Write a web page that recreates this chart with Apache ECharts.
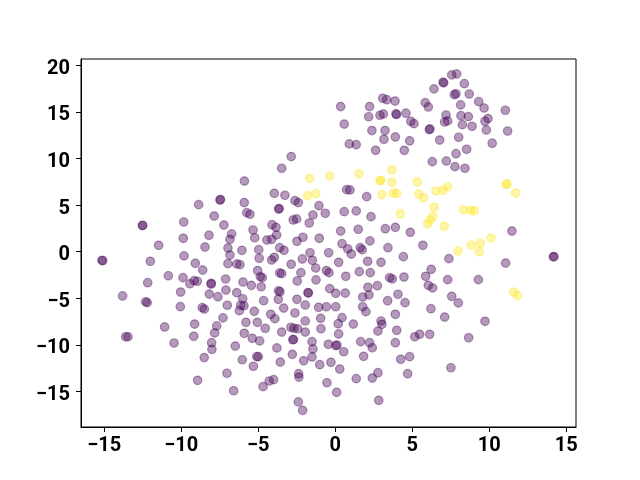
<!DOCTYPE html>
<html>
<head>
<meta charset="utf-8">
<script src="https://cdn.jsdelivr.net/npm/echarts@6/dist/echarts.min.js"></script>
<style>
  html, body { margin: 0; padding: 0; background: #fff; }
  #main { width: 640px; height: 480px; }
</style>
</head>
<body>
<div id="main"></div>
<script>
// tick values on both axes
var xTicks = [-15, -10, -5, 0, 5, 10, 15];
var yTicks = [-15, -10, -5, 0, 5, 10, 15, 20];

// points of the first class (dark purple)
var purplePoints = [
  [-5.9, 7.57], [0.35, 15.57], [0.58, 13.69], [2.23, 15.57], [2.17, 14.48],
  [3.08, 16.46], [3.34, 16.31], [3.88, 16.16], [2.9, 14.64], [3.12, 14.78],
  [3.94, 14.78], [3.98, 14.73], [4.59, 14.86], [4.9, 13.99], [5.11, 13.74],
  [2.38, 13.0], [3.23, 13.0], [3.16, 12.06], [3.9, 12.31], [4.83, 11.89],
  [4.48, 10.88], [2.62, 10.88], [0.91, 11.56], [1.36, 11.48], [-2.86, 10.2],
  [-3.48, 8.95], [7.56, 18.97], [7.88, 19.08], [7.04, 18.11], [7.0, 18.19],
  [8.38, 18.03], [6.41, 17.47], [7.73, 16.85], [7.84, 16.95], [8.7, 16.92],
  [9.31, 16.1], [9.66, 15.42], [11.04, 15.18], [5.84, 15.99], [6.04, 15.53],
  [8.14, 15.75], [7.19, 14.67], [7.1, 13.92], [7.3, 14.03], [8.16, 14.6],
  [8.64, 14.49], [8.25, 13.63], [8.88, 13.46], [9.72, 14.0], [9.92, 14.28],
  [6.15, 13.17], [6.1, 13.1], [9.81, 13.06], [11.19, 12.95], [8.01, 12.28],
  [6.78, 11.98], [10.19, 11.64], [8.53, 10.99], [7.84, 10.51], [6.3, 9.66],
  [7.21, 9.73], [7.77, 9.12], [8.42, 8.95],
  [-7.49, 5.54], [-7.45, 5.59], [-8.87, 5.04], [-5.91, 5.26], [-5.75, 4.18],
  [-5.54, 4.01], [-7.86, 3.82], [-9.84, 3.18], [-12.53, 2.79], [-12.5, 2.83],
  [-7.23, 2.85], [-6.73, 1.9], [-6.84, 1.32], [-8.2, 1.76], [-9.87, 1.43],
  [-11.47, 0.68], [-8.46, 0.49], [-6.97, 0.38], [-6.06, 0.14], [-6.84, -0.37],
  [-9.82, -0.46], [-15.15, -0.93], [-15.1, -0.98], [-12.01, -1.04], [-9.09, -1.26],
  [-6.97, -1.29], [-6.4, -1.32], [-6.19, -1.4], [-8.61, -1.98], [-10.84, -2.59],
  [-9.89, -2.8], [-9.16, -3.12], [-8.96, -3.18], [-9.44, -3.45], [-8.07, -3.48],
  [-8.05, -3.4], [-7.12, -2.94], [-5.99, -3.26], [-12.18, -3.34], [-7.1, -4.12],
  [-6.4, -4.41], [-10.04, -4.34], [-8.18, -4.56], [-7.62, -4.84], [-6.01, -5.06],
  [-13.81, -4.76], [-12.31, -5.38], [-12.21, -5.48], [-10.06, -5.91], [-8.64, -6.02],
  [-8.5, -6.17], [-7.01, -5.76], [-6.14, -5.76], [-5.93, -5.81], [-6.23, -6.34],
  [-7.29, -7.12], [-5.8, -7.59], [-9.13, -7.78], [-11.08, -8.09], [-7.7, -7.98],
  [-7.83, -8.73], [-5.91, -8.77], [-13.61, -9.14], [-13.46, -9.14], [-9.19, -9.09],
  [-10.47, -9.81], [-8.03, -9.78], [-8.01, -10.49], [-6.49, -10.14], [-8.51, -11.38],
  [-6.04, -11.61], [-7.03, -13.06], [-8.94, -13.82], [-6.6, -14.94],
  [-3.96, 6.26], [-3.27, 6.05], [0.74, 6.65], [0.95, 6.62], [2.04, 5.9],
  [-2.62, 5.47], [-2.4, 5.26], [-1.06, 4.93], [-3.68, 4.57], [-3.64, 4.62],
  [-1.45, 3.93], [-0.65, 4.12], [0.58, 4.29], [1.36, 4.37], [2.32, 3.75],
  [-2.73, 3.4], [-2.51, 3.51], [-1.69, 3.07], [-4.11, 2.89], [-3.85, 2.61],
  [0.35, 2.21], [1.49, 2.4], [3.25, 2.46], [3.9, 2.61], [4.87, 2.07],
  [-5.34, 2.32], [-5.23, 1.49], [-3.81, 1.79], [-4.13, 1.32], [-4.44, 1.24],
  [-2.1, 1.54], [-2.49, 1.11], [-1.04, 1.43], [2.25, 1.15], [0.44, 0.85],
  [0.81, 0.29], [1.04, -0.26], [1.62, 0.42], [1.75, 0.21], [3.42, 0.42],
  [-3.61, 0.42], [-3.33, 0.14], [-4.97, 0.21], [-1.64, -0.12], [-0.43, -0.12],
  [-2.14, -0.79], [-1.49, -0.93], [-3.96, -0.61], [-4.13, -0.9], [-4.94, -0.71],
  [-2.86, -1.36], [-1.27, -1.76], [0.22, -1.15], [2.1, -1.04], [2.97, -1.15],
  [4.42, -0.54], [-5.04, -2.04], [-4.87, -2.69], [-4.74, -2.8], [-3.61, -2.29],
  [-3.48, -2.37], [-2.23, -2.26], [-0.58, -2.04], [-0.41, -2.26], [0.68, -2.65],
  [1.56, -2.15], [2.27, -2.26], [3.53, -2.8], [3.7, -2.93], [4.46, -2.73],
  [-2.47, -3.15], [-1.25, -3.04], [-5.45, -3.62], [-4.81, -3.77], [-3.68, -4.2],
  [-3.59, -4.31], [-1.77, -4.41], [-1.75, -4.44], [-0.36, -3.98], [0.03, -4.48],
  [0.65, -4.45], [2.12, -3.83], [2.19, -4.65], [1.78, -4.87], [2.73, -3.66],
  [4.07, -4.58], [-4.65, -5.27], [-3.7, -5.12], [-2.49, -5.12], [-1.95, -5.73],
  [-1.08, -5.98], [-0.58, -5.92], [0.03, -5.92], [1.78, -5.92], [1.99, -6.45],
  [3.4, -5.27], [4.53, -5.48],
  [11.47, 2.21], [5.69, 0.68], [7.38, -0.76], [11.06, -1.23], [14.16, -0.57],
  [14.2, -0.53], [6.23, -1.9], [5.87, -2.65], [6.04, -3.62], [6.32, -3.9],
  [7.3, -3.01], [9.29, -3.01], [7.56, -4.8], [7.99, -5.51], [6.21, -6.13],
  [-5.26, -6.41], [-4.19, -6.73], [-3.92, -7.2], [-3.35, -6.06], [-2.62, -6.59],
  [3.9, -6.73], [-5.06, -7.59], [-4.55, -8.23], [-3.48, -8.64], [-2.88, -8.12],
  [-2.68, -8.23], [-2.44, -8.28], [-1.95, -7.45], [-1.95, -8.64], [-0.95, -7.16],
  [-0.93, -8.28], [0.44, -7.09], [0.19, -7.74], [1.17, -7.78], [2.97, -7.45],
  [3.03, -7.81], [2.77, -8.53], [3.99, -8.45], [5.16, -9.14], [-5.39, -9.31],
  [-4.91, -9.59], [-2.75, -9.46], [-2.72, -9.43], [0.22, -8.84], [-1.51, -9.67],
  [-1.45, -10.45], [-1.51, -11.31], [-3.79, -10.34], [-0.45, -9.95], [0.03, -10.1],
  [0.11, -10.03], [0.55, -10.75], [1.65, -9.67], [2.23, -9.78], [2.4, -10.32],
  [3.9, -9.78], [-5.1, -11.28], [-5.0, -11.28], [-2.79, -11.03], [-2.05, -11.72],
  [-3.57, -11.86], [-1.01, -12.14], [-0.28, -11.89], [0.29, -12.61], [1.84, -11.24],
  [4.25, -11.56], [4.83, -11.28], [-5.32, -12.31], [-2.38, -13.11], [-2.36, -13.47],
  [-4.0, -13.75], [-4.29, -13.89], [-4.69, -14.5], [-0.54, -14.08], [0.09, -15.11],
  [1.36, -13.64], [2.4, -13.58], [2.77, -13.0], [4.7, -13.11], [-2.4, -16.14],
  [-2.12, -17.04], [2.82, -15.97], [7.1, -7.03], [9.72, -7.48], [5.48, -8.88],
  [6.13, -8.88], [8.66, -9.25], [7.51, -12.47]
];

// points of the second class (yellow)
var yellowPoints = [
  [-1.66, 7.87], [-0.36, 8.12], [1.54, 8.37], [2.95, 7.66], [2.9, 7.62],
  [3.68, 8.76], [3.68, 7.45], [5.32, 7.47], [7.3, 6.97], [11.1, 7.23],
  [11.15, 7.27], [-1.79, 6.01], [-1.27, 6.22], [3.03, 6.12], [3.77, 6.26],
  [3.99, 6.26], [4.22, 4.07], [5.42, 6.18], [5.74, 5.76], [6.54, 6.51],
  [6.99, 6.59], [11.71, 6.29], [6.41, 4.76], [8.31, 4.5], [8.79, 4.44],
  [9.01, 4.37], [6.34, 3.75], [6.15, 3.4], [6.0, 2.96], [7.08, 2.72],
  [8.83, 0.68], [9.42, 0.9], [9.35, -0.01], [10.11, 1.46], [7.97, 0.07],
  [11.58, -4.34], [11.84, -4.73]
];

var chart = echarts.init(document.getElementById('main'));

function minusFmt(v) {
  return String(v).replace('-', '\u2212');
}

var labelStyle = {
  color: '#000',
  fontFamily: 'Roboto',
  fontWeight: 'bold',
  fontSize: 20
};

function dotStyle(r, g, b) {
  var c = 'rgba(' + r + ',' + g + ',' + b + ',0.4)';
  return { color: c, borderColor: c, borderWidth: 1.2, opacity: 1 };
}

chart.setOption({
  animation: false,
  grid: {
    left: 81, right: 64, top: 59, bottom: 53,
    show: true, borderColor: '#000', borderWidth: 1,
    backgroundColor: 'transparent'
  },
  xAxis: {
    type: 'value',
    min: -16.51,
    max: 15.63,
    axisLine: { show: true, onZero: false, lineStyle: { color: '#000', width: 1 } },
    axisTick: { show: true, inside: false, length: 5, customValues: xTicks, lineStyle: { color: '#000' } },
    axisLabel: Object.assign({ margin: 9, customValues: xTicks, formatter: minusFmt }, labelStyle),
    splitLine: { show: false }
  },
  yAxis: {
    type: 'value',
    min: -18.83,
    max: 20.68,
    axisLine: { show: true, onZero: false, lineStyle: { color: '#000', width: 1 } },
    axisTick: { show: true, inside: false, length: 5, customValues: yTicks, lineStyle: { color: '#000' } },
    axisLabel: {
      margin: 11,
      customValues: yTicks,
      formatter: function (v) { return '{t|' + minusFmt(v) + '}'; },
      rich: {
        t: Object.assign({ padding: [7, 0, 0, 0] }, labelStyle)
      }
    },
    splitLine: { show: false }
  },
  series: [
    {
      type: 'scatter',
      data: purplePoints,
      symbol: 'circle',
      symbolSize: 8.5,
      itemStyle: dotStyle(68, 1, 84)
    },
    {
      type: 'scatter',
      data: yellowPoints,
      symbol: 'circle',
      symbolSize: 8.5,
      itemStyle: dotStyle(253, 231, 37)
    }
  ]
});
</script>
</body>
</html>
